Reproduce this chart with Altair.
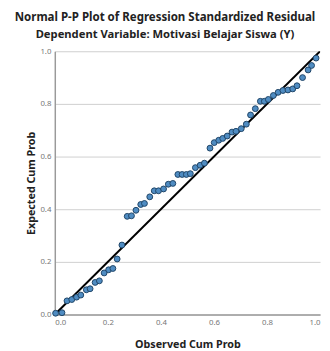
import altair as alt
import pandas as pd

observed = [0.003, 0.027, 0.046, 0.064, 0.082, 0.098, 0.119, 0.133, 0.152, 0.168,
            0.186, 0.203, 0.219, 0.235, 0.253, 0.273, 0.289, 0.306, 0.324, 0.338,
            0.358, 0.375, 0.391, 0.410, 0.428, 0.445, 0.464, 0.480, 0.496, 0.511,
            0.530, 0.548, 0.564, 0.585, 0.601, 0.618, 0.633, 0.650, 0.668, 0.683,
            0.703, 0.722, 0.738, 0.756, 0.775, 0.790, 0.805, 0.824, 0.842, 0.860,
            0.879, 0.897, 0.913, 0.934, 0.955, 0.968, 0.985]
expected = [0.005, 0.007, 0.052, 0.057, 0.066, 0.074, 0.094, 0.098, 0.122, 0.128,
            0.158, 0.170, 0.175, 0.211, 0.264, 0.373, 0.375, 0.396, 0.418, 0.422,
            0.447, 0.470, 0.470, 0.477, 0.495, 0.498, 0.532, 0.532, 0.532, 0.535,
            0.558, 0.567, 0.575, 0.632, 0.653, 0.662, 0.669, 0.678, 0.693, 0.696,
            0.706, 0.723, 0.758, 0.782, 0.810, 0.810, 0.817, 0.832, 0.844, 0.851,
            0.853, 0.857, 0.869, 0.900, 0.929, 0.946, 0.974]
ref_line_x = [0.0, 1.0]
ref_line_y = [0.0, 1.0]
ticks = [0.0, 0.2, 0.4, 0.6, 0.8, 1.0]

pts = pd.DataFrame({"obs": observed, "exp": expected})
ref = pd.DataFrame({"obs": ref_line_x, "exp": ref_line_y})

FONT = "Noto Sans"

xscale = alt.Scale(domain=[0, 1], nice=False, zero=False)
yscale = alt.Scale(domain=[0, 1], nice=False, zero=False)

xaxis = alt.Axis(title="Observed Cum Prob", values=ticks, format=".1f", grid=False,
                 ticks=False, domainColor="#9a9a9a", domainWidth=1.5,
                 labelColor="#777777", labelFontSize=8, labelFont=FONT, labelPadding=4,
                 titleFont=FONT, titleFontSize=11, titleFontWeight="bold",
                 titleColor="#222222", titlePadding=13)
yaxis = alt.Axis(title="Expected Cum Prob", values=ticks, format=".1f", grid=True,
                 gridColor="#cfcfcf", gridWidth=1, ticks=False, domainColor="#9a9a9a",
                 domainWidth=1.5, labelColor="#777777", labelFontSize=8, labelFont=FONT,
                 labelPadding=4, titleFont=FONT, titleFontSize=11,
                 titleFontWeight="bold", titleColor="#222222", titlePadding=4)

line = alt.Chart(ref).mark_line(color="#000000", strokeWidth=2, clip=True).encode(
    x=alt.X("obs:Q", scale=xscale, axis=xaxis),
    y=alt.Y("exp:Q", scale=yscale, axis=yaxis),
)
points = alt.Chart(pts).mark_point(filled=True, shape="circle", size=36,
                                   fill="#4f8cc2", stroke="#1f4466",
                                   strokeWidth=1, opacity=1).encode(
    x=alt.X("obs:Q", scale=xscale),
    y=alt.Y("exp:Q", scale=yscale),
)

chart = alt.layer(line, points).properties(
    width=272,
    height=270,
    autosize=alt.AutoSizeParams(type="none"),
    padding={"left": 48, "top": 40, "right": 2, "bottom": 32},
    title=alt.TitleParams(
        text="Normal P-P Plot of Regression Standardized Residual",
        subtitle="Dependent Variable: Motivasi Belajar Siswa (Y)",
        anchor="middle", dx=-23, font=FONT, fontSize=11.8, fontWeight="bold",
        color="#222222", subtitleFont=FONT, subtitleFontSize=11.5,
        subtitleFontWeight="bold", subtitleColor="#222222", subtitlePadding=6,
        offset=7,
    ),
).configure_view(stroke=None)

chart.save("out.html", embed_options={"renderer": "svg", "actions": False})
